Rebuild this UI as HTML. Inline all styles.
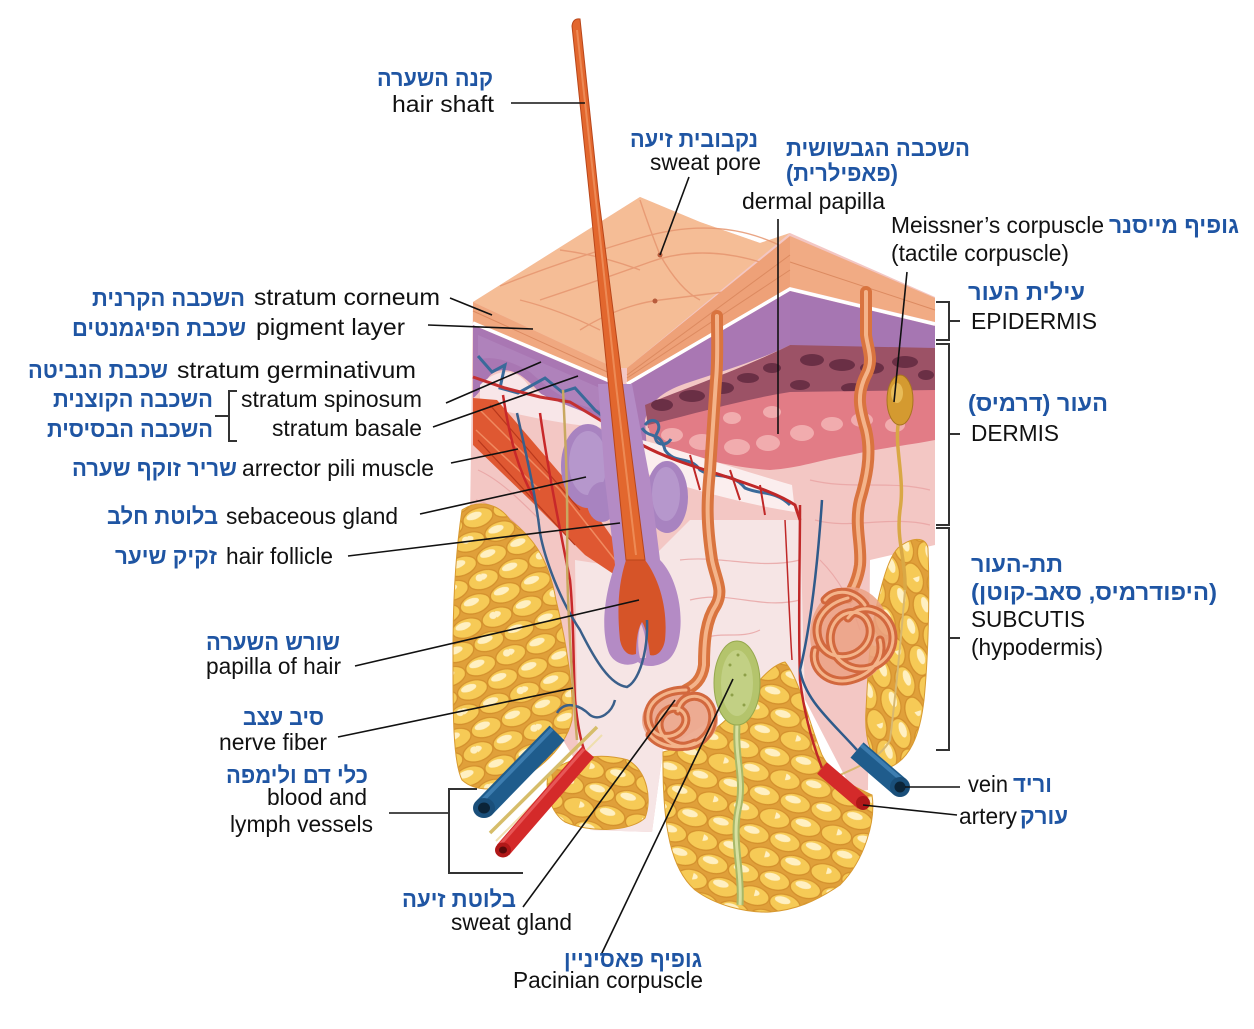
<!DOCTYPE html>
<html><head><meta charset="utf-8"><style>
html,body{margin:0;padding:0;background:#fff}
svg{display:block}
.en{font-family:"Liberation Sans",Arial,sans-serif;font-size:23px;fill:#111}
.he{font-family:"Liberation Sans","DejaVu Sans",sans-serif;font-size:23px;font-weight:bold;fill:#1f55a3}
.ln{stroke:#111;stroke-width:1.6;fill:none}
.br{stroke:#333;stroke-width:2;fill:none}
</style></head><body>
<svg width="1254" height="1029" viewBox="0 0 1254 1029" xmlns="http://www.w3.org/2000/svg">
<defs>
<pattern id="fat" width="64" height="40" patternUnits="userSpaceOnUse" patternTransform="rotate(-20)">
<rect width="64" height="40" fill="#e0a03a"/>
<g fill="#f6ca56" stroke="#d38f2c" stroke-width="1.2">
<ellipse cx="16" cy="10" rx="15.5" ry="9.3"/><ellipse cx="48" cy="10" rx="15.5" ry="9.3"/>
<ellipse cx="0" cy="30" rx="15.5" ry="9.3"/><ellipse cx="32" cy="30" rx="15.5" ry="9.3"/><ellipse cx="64" cy="30" rx="15.5" ry="9.3"/>
</g>
<g fill="#fff0c2"><ellipse cx="13" cy="7" rx="8" ry="3.6"/><ellipse cx="45" cy="7" rx="8" ry="3.6"/><ellipse cx="29" cy="27" rx="8" ry="3.6"/><ellipse cx="61" cy="27" rx="4" ry="3.6"/><ellipse cx="-3" cy="27" rx="8" ry="3.6"/></g>
</pattern>
<pattern id="fat2" width="64" height="40" patternUnits="userSpaceOnUse" patternTransform="rotate(72)">
<rect width="64" height="40" fill="#e0a03a"/>
<g fill="#f6ca56" stroke="#d38f2c" stroke-width="1.2">
<ellipse cx="16" cy="10" rx="15.5" ry="9.3"/><ellipse cx="48" cy="10" rx="15.5" ry="9.3"/>
<ellipse cx="0" cy="30" rx="15.5" ry="9.3"/><ellipse cx="32" cy="30" rx="15.5" ry="9.3"/><ellipse cx="64" cy="30" rx="15.5" ry="9.3"/>
</g>
<g fill="#fff0c2"><ellipse cx="13" cy="7" rx="8" ry="3.6"/><ellipse cx="45" cy="7" rx="8" ry="3.6"/><ellipse cx="29" cy="27" rx="8" ry="3.6"/><ellipse cx="-3" cy="27" rx="8" ry="3.6"/></g>
</pattern>
<pattern id="fat3" width="64" height="40" patternUnits="userSpaceOnUse" patternTransform="rotate(15)">
<rect width="64" height="40" fill="#e0a03a"/>
<g fill="#f6ca56" stroke="#d38f2c" stroke-width="1.2">
<ellipse cx="16" cy="10" rx="15.5" ry="9.3"/><ellipse cx="48" cy="10" rx="15.5" ry="9.3"/>
<ellipse cx="0" cy="30" rx="15.5" ry="9.3"/><ellipse cx="32" cy="30" rx="15.5" ry="9.3"/><ellipse cx="64" cy="30" rx="15.5" ry="9.3"/>
</g>
<g fill="#fff0c2"><ellipse cx="13" cy="7" rx="8" ry="3.6"/><ellipse cx="45" cy="7" rx="8" ry="3.6"/><ellipse cx="29" cy="27" rx="8" ry="3.6"/><ellipse cx="-3" cy="27" rx="8" ry="3.6"/></g>
</pattern>
</defs>

<!-- base dermis -->
<path d="M473,302 L640,197 L700,222 L760,243 L790,233 L935,297 L935,545 L870,560 L868,790 L853,792 L800,690 L785,662 L745,700 L663,750 L652,832 L590,830 L575,760 L560,735 L470,520 Z" fill="#f3c7c4"/>
<path d="M575,560 L640,570 L690,520 L800,520 L805,700 L785,662 L745,700 L663,750 L652,832 L590,830 L578,760 Z" fill="#f6e5e5"/>
<g stroke="#e8a2a2" stroke-width="1.2" fill="none" opacity="0.8">
<path d="M478,470 C500,480 520,500 540,520"/><path d="M476,500 C495,505 515,520 530,540"/>
<path d="M680,560 C720,555 760,570 800,560"/><path d="M690,600 C730,590 760,610 800,600"/>
<path d="M810,480 C850,490 890,480 930,490"/><path d="M815,520 C850,530 890,515 930,525"/>
<path d="M700,640 C720,630 740,640 760,630"/><path d="M820,560 C840,580 850,600 860,630"/>
</g>

<!-- fat -->
<path d="M462,510 C480,498 500,505 510,520 C530,535 548,555 556,600 C566,640 574,690 572,720 C566,745 545,765 520,780 C500,792 475,792 462,780 C452,760 453,700 453,650 C453,600 456,550 462,510 Z" fill="url(#fat)" stroke="#d89a30"/>
<path d="M548,775 C565,757 600,752 628,760 C648,772 652,800 645,818 C630,832 590,833 565,822 C550,812 545,790 548,775 Z" fill="url(#fat3)" stroke="#d89a30"/>
<path d="M663,752 C690,745 715,735 740,705 C755,685 770,665 785,662 C800,680 808,720 822,755 C835,780 852,785 872,795 C876,820 865,860 840,885 C815,902 795,910 770,912 C745,913 715,905 695,890 C672,870 662,830 663,752 Z" fill="url(#fat3)" stroke="#d89a30"/>
<path d="M898,548 C910,538 925,535 928,548 C930,600 928,660 924,700 C920,735 910,760 888,768 C872,765 864,740 866,710 C868,670 870,630 878,600 C884,575 890,556 898,548 Z" fill="url(#fat2)" stroke="#d89a30"/>

<!-- top surface -->
<path d="M473,302 L640,197 L700,222 L760,243 L790,233 L627,368 L615,368 Z" fill="#f5bd96"/>
<g stroke="#e69670" stroke-width="1.4" fill="none" opacity="0.85">
<path d="M500,286 Q560,262 640,238 T785,248"/>
<path d="M540,300 Q600,280 650,262 T760,262"/>
<path d="M640,200 Q650,230 660,255 Q680,290 700,300"/>
<path d="M580,330 Q620,305 660,300 T740,290"/>
<path d="M560,250 Q600,255 640,270"/>
<path d="M520,300 Q560,310 600,330"/>
</g>
<circle cx="660" cy="255" r="2.5" fill="#b85c3c"/><circle cx="655" cy="301" r="2.5" fill="#b85c3c"/>
<!-- corneum bands -->
<path d="M473,302 L615,368 L615,382 L473,322 Z" fill="#f0a880"/>
<path d="M627,368 L790,236 L790,287 L627,382 Z" fill="#eea178"/>
<path d="M790,236 L935,298 L935,322 L790,287 Z" fill="#f1ab84"/>
<g stroke="#dc8a60" stroke-width="1" fill="none">
<path d="M473,311 L614,375"/><path d="M627,375 L790,255"/><path d="M627,378 L790,270"/><path d="M790,262 L935,310"/>
</g>
<polyline points="473,323 612,382" stroke="#fff" stroke-width="3.5" fill="none"/>
<polyline points="627,384 790,289 935,324" stroke="#fff" stroke-width="3.5" fill="none"/>

<!-- purple epidermis -->
<path d="M473,325 L612,384 L612,425 C595,428 575,425 560,412 C545,400 535,385 520,375 C508,368 495,368 488,378 C482,388 478,395 473,398 Z" fill="#a977b3"/>
<path d="M627,386 L790,291 L790,345 C760,360 720,372 690,382 C665,390 650,400 645,420 L648,470 L630,470 Z" fill="#a977b3"/>
<path d="M790,291 L935,326 L935,350 L790,348 Z" fill="#a676b2"/>
<path d="M478,335 L600,388 L600,410 C570,405 550,390 530,372 C510,360 490,355 478,360 Z" fill="#b48bc0" opacity="0.6"/>

<!-- pigment band -->
<path d="M645,405 C680,390 740,370 790,345 L935,348 L935,395 C880,392 830,395 790,400 C740,408 690,420 648,428 Z" fill="#9c5266"/>
<g fill="#6a2f45">
<ellipse cx="662" cy="405" rx="11" ry="6"/><ellipse cx="692" cy="396" rx="13" ry="6"/><ellipse cx="722" cy="388" rx="12" ry="6"/>
<ellipse cx="748" cy="378" rx="11" ry="5"/><ellipse cx="772" cy="368" rx="9" ry="5"/><ellipse cx="812" cy="360" rx="12" ry="6"/>
<ellipse cx="842" cy="365" rx="13" ry="6"/><ellipse cx="872" cy="368" rx="12" ry="6"/><ellipse cx="905" cy="362" rx="13" ry="6"/>
<ellipse cx="926" cy="375" rx="8" ry="5"/><ellipse cx="800" cy="385" rx="10" ry="5"/><ellipse cx="852" cy="388" rx="11" ry="5"/>
</g>
<!-- papillae -->
<path d="M648,425 C690,415 740,400 790,392 L935,390 L935,440 C910,445 880,448 850,455 C820,460 800,468 770,470 C740,468 700,460 670,450 C658,445 650,438 648,425 Z" fill="#e27c86"/>
<g fill="#f1acae">
<ellipse cx="672" cy="435" rx="11" ry="7"/><ellipse cx="702" cy="442" rx="13" ry="8"/><ellipse cx="737" cy="447" rx="13" ry="8"/>
<ellipse cx="768" cy="443" rx="12" ry="8"/><ellipse cx="802" cy="433" rx="12" ry="8"/><ellipse cx="832" cy="424" rx="11" ry="7"/>
<ellipse cx="862" cy="420" rx="11" ry="7"/><ellipse cx="732" cy="418" rx="9" ry="6"/><ellipse cx="772" cy="412" rx="9" ry="6"/>
<ellipse cx="895" cy="425" rx="10" ry="7"/>
</g>
<!-- plexus -->
<path d="M642,440 C680,450 740,470 792,485 L795,512 C750,505 690,490 642,472 Z" fill="#fbeeee"/>
<path d="M480,385 C500,365 520,370 530,388 C550,400 580,410 605,420 L605,428 C570,425 530,418 480,405 Z" fill="#f8e6e8"/>
<g fill="none" stroke-width="3">
<path d="M478,356 L492,372 L505,365 L500,388 L518,393 L545,378 L562,392 L575,388 L595,410 L605,418" stroke="#3a6a9a"/>
<path d="M473,377 L505,388 L540,397 L570,402 L605,423" stroke="#c43030"/>
<path d="M642,428 C650,440 660,430 665,450 C675,465 690,455 700,470 C715,480 730,470 745,488 C760,495 775,490 790,505" stroke="#3a6a9a"/>
<path d="M645,425 c8,-10 18,-2 12,8 c-6,10 8,16 14,6" stroke="#3a6a9a"/>
<path d="M642,445 C670,460 700,468 730,478 C760,488 780,495 795,505 L800,520" stroke="#c02828"/>
<path d="M690,455 L700,490 M730,470 L740,500 M760,485 L765,515" stroke="#c02828" stroke-width="2"/>
</g>

<!-- arrector pili -->
<path d="M473,398 L497,400 L540,450 L600,520 L628,560 L615,575 L585,555 L530,500 L473,445 Z" fill="#df5832"/>
<g stroke="#f08a60" stroke-width="1.5" fill="none"><path d="M480,410 L560,490 L615,560"/><path d="M476,430 L540,490"/></g>
<g stroke="#b8381c" stroke-width="1.2" fill="none"><path d="M490,405 L580,510"/><path d="M478,440 L575,545"/></g>

<!-- sebaceous glands -->
<ellipse cx="588" cy="466" rx="27" ry="42" fill="#a883c0"/>
<ellipse cx="588" cy="463" rx="19" ry="32" fill="#b697cc"/>
<ellipse cx="602" cy="502" rx="15" ry="20" fill="#a883c0"/>
<ellipse cx="667" cy="497" rx="21" ry="36" fill="#a883c0"/>
<ellipse cx="666" cy="494" rx="14" ry="27" fill="#b697cc"/>

<!-- follicle -->
<path d="M598,384 L632,384 L650,480 L660,560 C685,585 688,650 665,662 C650,670 640,664 638,662 C628,668 612,664 608,650 C600,625 606,590 615,565 L605,480 Z" fill="#b48bc5"/>
<path d="M626,560 L645,560 C660,580 668,610 665,640 C663,652 656,657 650,655 C648,640 646,628 642,622 C638,628 636,640 636,654 C628,657 622,650 620,640 C617,610 618,585 626,560 Z" fill="#d65428"/>
<path d="M641,624 C638,632 637,645 640,658 L646,658 C647,645 645,632 641,624 Z" fill="#eec4cf"/>

<!-- hair shaft -->
<path d="M572,26 Q573,18 580,19 L599,200 L622,380 L645,560 L626,560 L608,380 L590,200 Z" fill="#e2672e" stroke="#b9461a" stroke-width="1"/>
<path d="M577,30 L597,210 L616,385 L636,555" stroke="#f29a66" stroke-width="2" fill="none" opacity="0.7"/>

<!-- sweat ducts -->
<g fill="none" stroke-linecap="round">
<path d="M717,316 C717,340 718,360 716,380 C714,410 712,440 710,470 C707,500 706,520 712,560 C716,580 724,590 716,605 C706,620 704,640 704,665 C702,680 694,686 686,690" stroke="#d9743f" stroke-width="12"/>
<path d="M717,316 C717,340 718,360 716,380 C714,410 712,440 710,470 C707,500 706,520 712,560 C716,580 724,590 716,605 C706,620 704,640 704,665 C702,680 694,686 686,690" stroke="#f4b48a" stroke-width="4"/>
<path d="M866,292 L866,335 C868,350 874,360 866,375 C856,395 860,410 866,430 C872,455 866,480 860,500 C854,525 862,545 860,565 C858,580 852,590 848,598" stroke="#d9743f" stroke-width="12"/>
<path d="M866,292 L866,335 C868,350 874,360 866,375 C856,395 860,410 866,430 C872,455 866,480 860,500 C854,525 862,545 860,565 C858,580 852,590 848,598" stroke="#f4b48a" stroke-width="4"/>
</g>
<!-- coils -->
<ellipse cx="680" cy="720" rx="38" ry="30" fill="#eba184" opacity="0.85"/>
<g fill="none" stroke-linecap="round">
<path id="c1" d="M686,690 c-20,0 -40,10 -38,30 c2,18 25,22 35,8 c10,-14 -8,-28 -20,-14 c-12,14 5,35 25,32 c20,-3 30,-25 22,-40 c-8,-15 -30,-12 -32,5 M650,735 c10,12 30,15 45,8" stroke="#d2683e" stroke-width="9"/>
<path d="M686,690 c-20,0 -40,10 -38,30 c2,18 25,22 35,8 c10,-14 -8,-28 -20,-14 c-12,14 5,35 25,32 c20,-3 30,-25 22,-40 c-8,-15 -30,-12 -32,5 M650,735 c10,12 30,15 45,8" stroke="#f4b48a" stroke-width="3"/>
</g>
<ellipse cx="850" cy="635" rx="40" ry="48" fill="#eba184" opacity="0.85"/>
<g fill="none" stroke-linecap="round">
<path d="M848,598 c-20,5 -35,20 -30,40 c5,20 30,25 45,10 c15,-15 5,-40 -15,-35 c-20,5 -25,35 -5,50 c20,15 50,0 50,-25 c0,-25 -30,-40 -45,-20 M815,650 c-5,20 15,35 35,30 c20,-5 35,-20 30,-40 M825,600 c10,-12 30,-10 40,5" stroke="#d2683e" stroke-width="9"/>
<path d="M848,598 c-20,5 -35,20 -30,40 c5,20 30,25 45,10 c15,-15 5,-40 -15,-35 c-20,5 -25,35 -5,50 c20,15 50,0 50,-25 c0,-25 -30,-40 -45,-20 M815,650 c-5,20 15,35 35,30 c20,-5 35,-20 30,-40 M825,600 c10,-12 30,-10 40,5" stroke="#f4b48a" stroke-width="3"/>
</g>

<!-- Meissner -->
<path d="M898,425 C895,450 905,480 900,510 C896,540 906,560 905,590" stroke="#d9a845" stroke-width="3.5" fill="none"/>
<ellipse cx="900" cy="400" rx="13" ry="25" fill="#d49a30" stroke="#a87420"/>
<ellipse cx="897" cy="393" rx="6" ry="10" fill="#e8bc58"/>

<!-- Pacinian -->
<path d="M737,725 C735,760 745,780 738,810 C732,840 742,870 740,905" stroke="#a8b868" stroke-width="7" fill="none"/>
<path d="M737,725 C735,760 745,780 738,810 C732,840 742,870 740,905" stroke="#d8e0a0" stroke-width="3" fill="none"/>
<ellipse cx="737" cy="683" rx="23" ry="42" fill="#b4c46c" stroke="#96a84e"/>
<ellipse cx="737" cy="683" rx="16" ry="33" fill="#c2d084"/>
<g fill="#8ea048"><circle cx="730" cy="665" r="1.5"/><circle cx="745" cy="675" r="1.5"/><circle cx="732" cy="695" r="1.5"/><circle cx="744" cy="705" r="1.5"/><circle cx="738" cy="655" r="1.5"/></g>

<!-- thin vessels and nerves -->
<g fill="none" stroke-width="2.5">
<path d="M540,413 C548,470 560,530 570,580 C574,620 573,660 575,700 C577,720 580,740 585,752" stroke="#c8282a"/>
<path d="M503,395 C510,440 518,470 535,500" stroke="#c8282a"/>
<path d="M517,413 C525,450 535,490 540,533 C545,560 560,600 580,630 C595,660 610,685 627,687 C640,680 648,650 647,620" stroke="#3a5f8a"/>
<path d="M557,713 C565,700 580,705 590,715 C600,722 612,712 615,700" stroke="#3a5f8a"/>
<path d="M563,390 C566,450 568,500 567,560 C568,620 572,680 577,740" stroke="#c9a860"/>
<path d="M800,505 C800,560 798,620 800,680 C805,720 815,750 822,768" stroke="#c02828"/>
<path d="M785,520 C788,580 790,630 792,660" stroke="#c02828" stroke-width="1.5"/>
<path d="M822,500 C818,560 812,620 800,670 C805,700 830,720 857,750" stroke="#2f5a8a"/>
<path d="M905,590 C900,650 895,700 890,740 C880,760 850,770 840,775" stroke="#d8b870" stroke-width="2"/>
</g>

<!-- big vessels left -->
<line x1="597" y1="727" x2="490" y2="833" stroke="#d6bd6a" stroke-width="3.5"/>
<line x1="602" y1="735" x2="496" y2="841" stroke="#efdfae" stroke-width="2"/>
<line x1="557" y1="733" x2="484" y2="808" stroke="#1f5c8c" stroke-width="21"/>
<line x1="552" y1="729" x2="480" y2="803" stroke="#4a8cc0" stroke-width="4" opacity="0.7"/>
<ellipse cx="484" cy="808" rx="11" ry="10" fill="#1a4f7a"/><ellipse cx="484" cy="808" rx="6" ry="5.5" fill="#0b2438"/>
<line x1="588" y1="752" x2="503" y2="850" stroke="#d42a2a" stroke-width="16"/>
<line x1="584" y1="749" x2="499" y2="846" stroke="#f06a6a" stroke-width="3" opacity="0.7"/>
<ellipse cx="503" cy="850" rx="8" ry="7.5" fill="#b01818"/><ellipse cx="503" cy="850" rx="4" ry="3.5" fill="#5a0a0a"/>
<!-- big vessels right -->
<line x1="857" y1="750" x2="900" y2="787" stroke="#1f5c8c" stroke-width="20"/>
<line x1="861" y1="745" x2="904" y2="782" stroke="#4a8cc0" stroke-width="4" opacity="0.7"/>
<ellipse cx="900" cy="787" rx="10" ry="10" fill="#1a4f7a"/><ellipse cx="900" cy="787" rx="5.5" ry="5.5" fill="#0b2438"/>
<line x1="822" y1="768" x2="863" y2="803" stroke="#d42a2a" stroke-width="15"/>
<ellipse cx="863" cy="803" rx="7" ry="7" fill="#b01818"/>

<!-- label lines -->
<g class="ln">
<line x1="511" y1="103" x2="585" y2="103"/>
<line x1="689" y1="177" x2="660" y2="255"/>
<line x1="778" y1="219" x2="778" y2="434"/>
<line x1="907" y1="272" x2="894" y2="402"/>
<line x1="450" y1="298" x2="492" y2="315"/>
<line x1="428" y1="325" x2="533" y2="329"/>
<line x1="446" y1="403" x2="541" y2="362"/>
<line x1="433" y1="427" x2="578" y2="376"/>
<line x1="451" y1="463" x2="518" y2="449"/>
<line x1="420" y1="514" x2="586" y2="477"/>
<line x1="348" y1="556" x2="620" y2="523"/>
<line x1="355" y1="666" x2="639" y2="600"/>
<line x1="338" y1="737" x2="573" y2="688"/>
<line x1="389" y1="813" x2="449" y2="813"/>
<line x1="523" y1="907" x2="675" y2="700"/>
<line x1="601" y1="955" x2="733" y2="679"/>
<line x1="905" y1="787" x2="960" y2="787"/>
<line x1="863" y1="805" x2="957" y2="815"/>
</g>
<g class="br">
<polyline points="477,789 449,789 449,873 523,873"/>
<polyline points="237,391 229,391 229,441 237,441"/><line x1="215" y1="416" x2="229" y2="416"/>
<polyline points="936,302 949,302 949,340 936,340"/><line x1="949" y1="321" x2="960" y2="321"/>
<polyline points="936,344 949,344 949,525 936,525"/><line x1="949" y1="434" x2="960" y2="434"/>
<polyline points="936,528 949,528 949,750 936,750"/><line x1="949" y1="638" x2="960" y2="638"/>
</g>

<!-- English labels -->
<g class="en">
<text x="392" y="112" textLength="102" lengthAdjust="spacingAndGlyphs">hair shaft</text>
<text x="650" y="170" textLength="111" lengthAdjust="spacingAndGlyphs">sweat pore</text>
<text x="742" y="209" textLength="143" lengthAdjust="spacingAndGlyphs">dermal papilla</text>
<text x="891" y="233" textLength="213" lengthAdjust="spacingAndGlyphs">Meissner’s corpuscle</text>
<text x="891" y="261" textLength="178" lengthAdjust="spacingAndGlyphs">(tactile corpuscle)</text>
<text x="971" y="329" textLength="126" lengthAdjust="spacingAndGlyphs">EPIDERMIS</text>
<text x="971" y="441" textLength="88" lengthAdjust="spacingAndGlyphs">DERMIS</text>
<text x="971" y="627" textLength="114" lengthAdjust="spacingAndGlyphs">SUBCUTIS</text>
<text x="971" y="655" textLength="132" lengthAdjust="spacingAndGlyphs">(hypodermis)</text>
<text x="968" y="792" textLength="40" lengthAdjust="spacingAndGlyphs">vein</text>
<text x="959" y="824" textLength="58" lengthAdjust="spacingAndGlyphs">artery</text>
<text x="254" y="305" textLength="186" lengthAdjust="spacingAndGlyphs">stratum corneum</text>
<text x="256" y="335" textLength="149" lengthAdjust="spacingAndGlyphs">pigment layer</text>
<text x="177" y="378" textLength="239" lengthAdjust="spacingAndGlyphs">stratum germinativum</text>
<text x="241" y="407" textLength="181" lengthAdjust="spacingAndGlyphs">stratum spinosum</text>
<text x="272" y="436" textLength="150" lengthAdjust="spacingAndGlyphs">stratum basale</text>
<text x="242" y="476" textLength="192" lengthAdjust="spacingAndGlyphs">arrector pili muscle</text>
<text x="226" y="524" textLength="172" lengthAdjust="spacingAndGlyphs">sebaceous gland</text>
<text x="226" y="564" textLength="107" lengthAdjust="spacingAndGlyphs">hair follicle</text>
<text x="206" y="674" textLength="135" lengthAdjust="spacingAndGlyphs">papilla of hair</text>
<text x="219" y="750" textLength="108" lengthAdjust="spacingAndGlyphs">nerve fiber</text>
<text x="267" y="805" textLength="100" lengthAdjust="spacingAndGlyphs">blood and</text>
<text x="230" y="832" textLength="143" lengthAdjust="spacingAndGlyphs">lymph vessels</text>
<text x="451" y="930" textLength="121" lengthAdjust="spacingAndGlyphs">sweat gland</text>
<text x="513" y="988" textLength="190" lengthAdjust="spacingAndGlyphs">Pacinian corpuscle</text>
</g>

<!-- Hebrew labels -->
<g class="he">
<text x="493" y="86" direction="rtl" text-anchor="start" textLength="116" lengthAdjust="spacingAndGlyphs">קנה השערה</text>
<text x="758" y="147" direction="rtl" text-anchor="start" textLength="128" lengthAdjust="spacingAndGlyphs">נקבובית זיעה</text>
<text x="970" y="156" direction="rtl" text-anchor="start" textLength="184" lengthAdjust="spacingAndGlyphs">השכבה הגבשושית</text>
<text x="898" y="181" direction="rtl" text-anchor="start" textLength="112" lengthAdjust="spacingAndGlyphs">(פאפילרית)</text>
<text x="1239" y="233" direction="rtl" text-anchor="start" textLength="130" lengthAdjust="spacingAndGlyphs">גופיף מייסנר</text>
<text x="1085" y="300" direction="rtl" text-anchor="start" textLength="117" lengthAdjust="spacingAndGlyphs">עילית העור</text>
<text x="1108" y="411" direction="rtl" text-anchor="start" textLength="140" lengthAdjust="spacingAndGlyphs">העור (דרמיס)</text>
<text x="1063" y="572" direction="rtl" text-anchor="start" textLength="92" lengthAdjust="spacingAndGlyphs">תת-העור</text>
<text x="1217" y="600" direction="rtl" text-anchor="start" textLength="246" lengthAdjust="spacingAndGlyphs">(היפודרמיס, סאב-קוטן)</text>
<text x="1052" y="792" direction="rtl" text-anchor="start" textLength="39" lengthAdjust="spacingAndGlyphs">וריד</text>
<text x="1068" y="824" direction="rtl" text-anchor="start" textLength="48" lengthAdjust="spacingAndGlyphs">עורק</text>
<text x="245" y="306" direction="rtl" text-anchor="start" textLength="153" lengthAdjust="spacingAndGlyphs">השכבה הקרנית</text>
<text x="246" y="336" direction="rtl" text-anchor="start" textLength="174" lengthAdjust="spacingAndGlyphs">שכבת הפיגמנטים</text>
<text x="168" y="378" direction="rtl" text-anchor="start" textLength="140" lengthAdjust="spacingAndGlyphs">שכבת הנביטה</text>
<text x="213" y="407" direction="rtl" text-anchor="start" textLength="160" lengthAdjust="spacingAndGlyphs">השכבה הקוצנית</text>
<text x="213" y="437" direction="rtl" text-anchor="start" textLength="166" lengthAdjust="spacingAndGlyphs">השכבה הבסיסית</text>
<text x="237" y="476" direction="rtl" text-anchor="start" textLength="165" lengthAdjust="spacingAndGlyphs">שריר זוקף שערה</text>
<text x="218" y="524" direction="rtl" text-anchor="start" textLength="111" lengthAdjust="spacingAndGlyphs">בלוטת חלב</text>
<text x="217" y="564" direction="rtl" text-anchor="start" textLength="102" lengthAdjust="spacingAndGlyphs">זקיק שיער</text>
<text x="340" y="650" direction="rtl" text-anchor="start" textLength="134" lengthAdjust="spacingAndGlyphs">שורש השערה</text>
<text x="324" y="725" direction="rtl" text-anchor="start" textLength="81" lengthAdjust="spacingAndGlyphs">סיב עצב</text>
<text x="368" y="783" direction="rtl" text-anchor="start" textLength="142" lengthAdjust="spacingAndGlyphs">כלי דם ולימפה</text>
<text x="516" y="907" direction="rtl" text-anchor="start" textLength="114" lengthAdjust="spacingAndGlyphs">בלוטת זיעה</text>
<text x="702" y="967" direction="rtl" text-anchor="start" textLength="138" lengthAdjust="spacingAndGlyphs">גופיף פאסיניין</text>
</g>
</svg>
</body></html>
